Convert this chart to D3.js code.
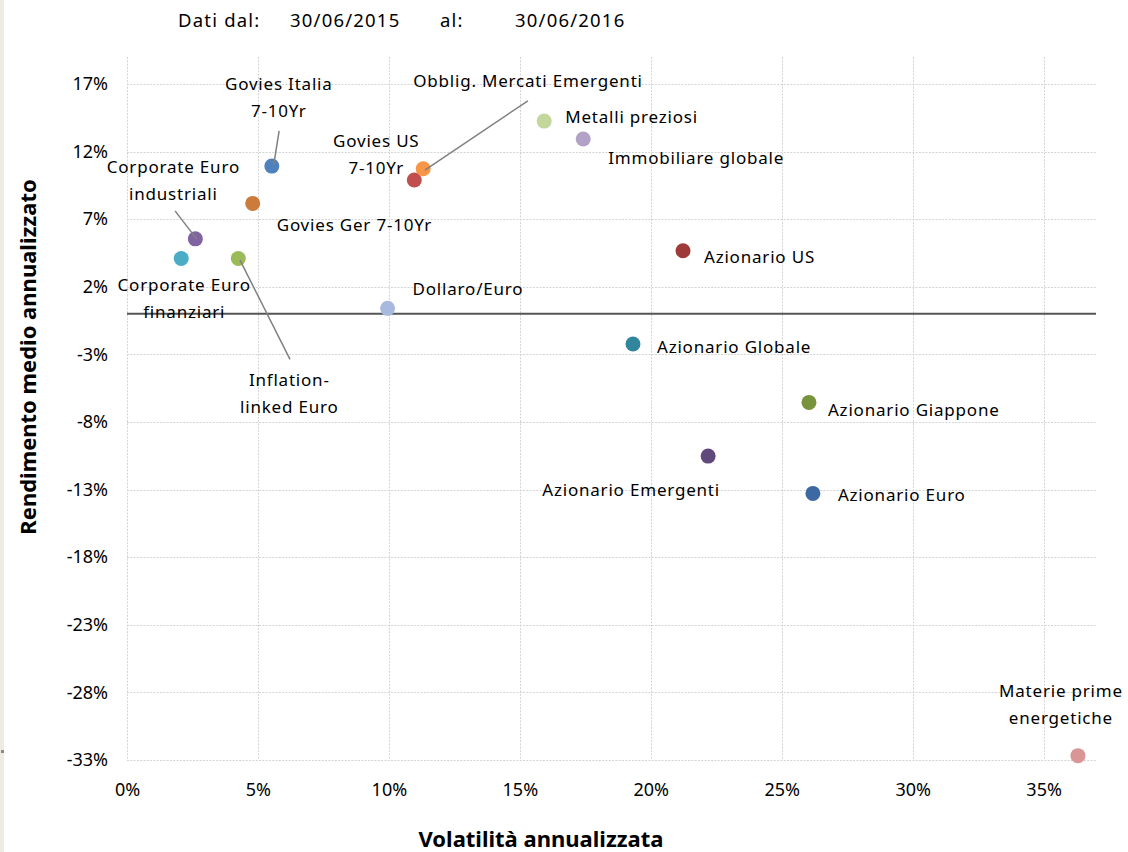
<!DOCTYPE html>
<html>
<head>
<meta charset="utf-8">
<script src="https://cdnjs.cloudflare.com/ajax/libs/d3/7.8.5/d3.min.js"></script>
<style>
  html, body { margin: 0; padding: 0; background: #ffffff; }
  svg { display: block; }
  text { font-family: "Noto Sans", "Open Sans", sans-serif; fill: #000; }
</style>
</head>
<body>
<svg id="chart" width="1128" height="852"></svg>
<script>
// ---------- DATA ----------
const categories = [
  "Govies Italia\n7-10Yr",
  "Govies Ger 7-10Yr",
  "Corporate Euro\nindustriali",
  "Corporate Euro\nfinanziari",
  "Inflation-\nlinked Euro",
  "Dollaro/Euro",
  "Govies US\n7-10Yr",
  "Obblig. Mercati Emergenti",
  "Metalli preziosi",
  "Immobiliare globale",
  "Azionario US",
  "Azionario Globale",
  "Azionario Giappone",
  "Azionario Emergenti",
  "Azionario Euro",
  "Materie prime\nenergetiche"
];
// annualised volatility (x)
const volatility = [0.0553, 0.0480, 0.0261, 0.0207, 0.0425, 0.0995, 0.1097, 0.1131,
                    0.1593, 0.1742, 0.2123, 0.1932, 0.2604, 0.2219, 0.2619, 0.3631];
// annualised mean return (y)
const returns = [0.1093, 0.0817, 0.0555, 0.0410, 0.0410, 0.0041, 0.0990, 0.1073,
                 0.1426, 0.1293, 0.0467, -0.0223, -0.0655, -0.1052, -0.1328, -0.3268];
const xTickValues = [0, 0.05, 0.10, 0.15, 0.20, 0.25, 0.30, 0.35];
const yTickValues = [0.17, 0.12, 0.07, 0.02, -0.03, -0.08, -0.13, -0.18, -0.23, -0.28, -0.33];
const headerTexts = ["Dati dal:", "30/06/2015", "al:", "30/06/2016"];
const xTitle = "Volatilità annualizzata";
const yTitle = "Rendimento medio annualizzato";

// ---------- STYLES / LAYOUT ----------
const colors = ["#4f81bd", "#cb7b3a", "#8064a2", "#4bacc6", "#9bbb59", "#a7b9dc", "#c0504d", "#f79646",
                "#c3d69b", "#b3a2c7", "#9e3b39", "#31859c", "#77933c", "#604a7b", "#3d69a3", "#d99694"];
// label placement relative to the point: anchor, dx, dy (first baseline), optional leader [x1,y1,x2,y2]
const labelLayout = [
  {a: "middle", dx: 7,   dy: -76, leader: [7.3, -35.3, 2, -2]},
  {a: "start",  dx: 24,  dy: 28},
  {a: "middle", dx: -22, dy: -66, leader: [-20.3, -28, 1.4, 0.3]},
  {a: "middle", dx: 3,   dy: 33},
  {a: "middle", dx: 51,  dy: 128, leader: [1.7, 1.7, 51.7, 101]},
  {a: "start",  dx: 25,  dy: -13},
  {a: "middle", dx: -38, dy: -33},
  {a: "start",  dx: -10, dy: -82, leader: [104.7, -68, 1.7, 1.3]},
  {a: "start",  dx: 21,  dy: 2},
  {a: "start",  dx: 25,  dy: 25},
  {a: "start",  dx: 21,  dy: 12},
  {a: "start",  dx: 24,  dy: 9},
  {a: "start",  dx: 19,  dy: 14},
  {a: "middle", dx: -77, dy: 40},
  {a: "start",  dx: 25,  dy: 8},
  {a: "middle", dx: -17, dy: -59}
];

const svg = d3.select("#chart");
const plotLeft = 127, plotRight = 1096, plotTop = 57, plotBottom = 760;

const x = d3.scaleLinear().domain([0, 0.37]).range([plotLeft, plotRight]);
const y = d3.scaleLinear().domain([-0.33, 0.19]).range([plotBottom, plotTop]);
const pct = d => Math.round(d * 100) + "%";

// left beige strip
svg.append("rect").attr("x", 0).attr("y", 0).attr("width", 4).attr("height", 852).attr("fill", "#eeece1");
svg.append("rect").attr("x", 1).attr("y", 750).attr("width", 3).attr("height", 3).attr("fill", "#8a8a8a");

// header
const headerX = [178, 290, 440, 515];
svg.append("g").selectAll("text").data(headerTexts).join("text")
  .attr("x", (d, i) => headerX[i]).attr("y", 27)
  .attr("font-size", 18.5).attr("letter-spacing", 1.2)
  .text(d => d);

// gridlines
const grid = svg.append("g").attr("stroke", "#d4d4d4").attr("stroke-width", 1).attr("stroke-dasharray", "2,1.3");
grid.selectAll("line.v").data(xTickValues).join("line").attr("class", "v")
  .attr("x1", d => Math.round(x(d)) + 0.5).attr("x2", d => Math.round(x(d)) + 0.5)
  .attr("y1", plotTop).attr("y2", plotBottom);
grid.selectAll("line.h").data(yTickValues).join("line").attr("class", "h")
  .attr("x1", plotLeft).attr("x2", plotRight)
  .attr("y1", d => Math.round(y(d)) + 0.5).attr("y2", d => Math.round(y(d)) + 0.5);

// zero line
svg.append("line").attr("x1", plotLeft).attr("x2", plotRight)
  .attr("y1", y(0)).attr("y2", y(0))
  .attr("stroke", "#555555").attr("stroke-width", 2);

// axes
const yAxis = d3.axisLeft(y).tickValues(yTickValues).tickFormat(pct).tickSize(0).tickPadding(19);
const gy = svg.append("g").attr("transform", `translate(${plotLeft},0)`).call(yAxis);
gy.select(".domain").remove();
gy.selectAll("text").attr("font-size", 18).attr("font-family", "Noto Sans").attr("fill", "#000");

const xAxis = d3.axisBottom(x).tickValues(xTickValues).tickFormat(pct).tickSize(0).tickPadding(23);
const gx = svg.append("g").attr("transform", `translate(0,${plotBottom})`).call(xAxis);
gx.select(".domain").remove();
gx.selectAll("text").attr("font-size", 18).attr("font-family", "Noto Sans").attr("fill", "#000");

// axis titles
svg.append("text").attr("x", 541).attr("y", 847).attr("text-anchor", "middle")
  .attr("font-size", 22).attr("font-weight", "bold").text(xTitle);
svg.append("text").attr("transform", "translate(36,357) rotate(-90)").attr("text-anchor", "middle")
  .attr("font-size", 22).attr("font-weight", "bold").text(yTitle);

// points
const pts = categories.map((c, i) => ({name: c, vx: volatility[i], vy: returns[i], color: colors[i], lay: labelLayout[i]}));

svg.append("g").selectAll("circle").data(pts).join("circle")
  .attr("cx", d => x(d.vx)).attr("cy", d => y(d.vy)).attr("r", 7.5)
  .attr("fill", d => d.color);

// leader lines
svg.append("g").selectAll("line").data(pts.filter(d => d.lay.leader)).join("line")
  .attr("x1", d => x(d.vx) + d.lay.leader[0]).attr("y1", d => y(d.vy) + d.lay.leader[1])
  .attr("x2", d => x(d.vx) + d.lay.leader[2]).attr("y2", d => y(d.vy) + d.lay.leader[3])
  .attr("stroke", "#808080").attr("stroke-width", 1.5);

// labels
const lab = svg.append("g").selectAll("text").data(pts).join("text")
  .attr("font-size", 17).attr("letter-spacing", 0.8)
  .attr("text-anchor", d => d.lay.a)
  .attr("x", d => x(d.vx) + d.lay.dx)
  .attr("y", d => y(d.vy) + d.lay.dy);
lab.each(function(d) {
  const t = d3.select(this);
  d.name.split("\n").forEach((line, j) => {
    t.append("tspan").attr("x", x(d.vx) + d.lay.dx).attr("dy", j === 0 ? 0 : 27).text(line);
  });
});
</script>
</body>
</html>
